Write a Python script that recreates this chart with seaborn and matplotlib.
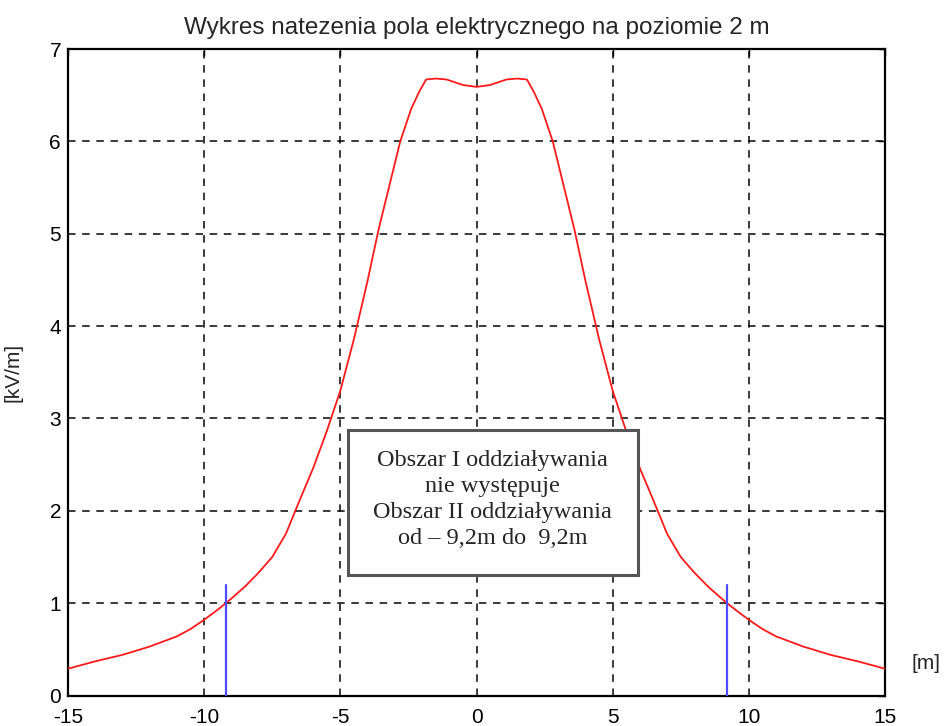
import numpy as np
import pandas as pd
import matplotlib
matplotlib.use("Agg")
import matplotlib.pyplot as plt
import seaborn as sns

# ── Data ──────────────────────────────────────────────────────────────────────
x_m = [-15, -14, -13, -12, -11, -10.5, -10, -9.5, -9.2, -9, -8.5, -8, -7.5,
       -7, -6.5, -6, -5.5, -5, -4.5, -4, -3.6, -3.2, -2.8, -2.4, -2.1, -1.85,
       -1.5, -1.1, -0.5, 0,
       0.5, 1.1, 1.5, 1.85, 2.1, 2.4, 2.8, 3.2, 3.6, 4, 4.5, 5, 5.5, 6, 6.5,
       7, 7.5, 8, 8.5, 9, 9.2, 9.5, 10, 10.5, 11, 12, 13, 14, 15]
e_kv = [0.29, 0.37, 0.44, 0.53, 0.64, 0.72, 0.82, 0.93, 1.00, 1.05, 1.18, 1.33,
        1.50, 1.75, 2.11, 2.46, 2.86, 3.30, 3.86, 4.49, 5.04, 5.52, 6.00, 6.35,
        6.54, 6.67, 6.68, 6.67, 6.61, 6.59,
        6.61, 6.67, 6.68, 6.67, 6.54, 6.35, 6.00, 5.52, 5.04, 4.49, 3.86, 3.30,
        2.86, 2.46, 2.11, 1.75, 1.50, 1.33, 1.18, 1.05, 1.00, 0.93, 0.82, 0.72,
        0.64, 0.53, 0.44, 0.37, 0.29]

zone_edges = [-9.2, 9.2]
zone_height = 1.2

title = "Wykres natezenia pola elektrycznego na poziomie 2 m"
box_lines = ["Obszar I oddziaływania", "nie występuje",
             "Obszar II oddziaływania", "od – 9,2m do  9,2m"]

df = pd.DataFrame({"x": x_m, "E": e_kv})

# ── Style ─────────────────────────────────────────────────────────────────────
sns.set_style("white")
plt.rcParams["font.family"] = ["Liberation Sans", "DejaVu Sans"]
plt.rcParams["axes.unicode_minus"] = False

fig = plt.figure(figsize=(9.49, 7.26), dpi=100)
ax = fig.add_axes([68 / 949, (726 - 695.5) / 726, 817 / 949, 646.5 / 726])

sns.lineplot(data=df, x="x", y="E", ax=ax, color="#ff1a1a", lw=1.3,
             sort=False, zorder=3)
for xe in zone_edges:
    ax.plot([xe, xe], [0, zone_height], color="#4d4dff", lw=1.6, zorder=3)

ax.set_xlim(-15, 15)
ax.set_ylim(0, 7)
ax.set_xticks(range(-15, 16, 5))
ax.set_yticks(range(0, 8))
ax.grid(True, color="black", ls=(0, (4.5, 4)), lw=1.2, alpha=0.9)
ax.set_axisbelow(True)
for s in ax.spines.values():
    s.set_color("black")
    s.set_linewidth(1.6)
ax.tick_params(direction="in", length=5, width=1, top=True, right=True,
               labelsize=15, colors="black")
ax.tick_params(axis="x", pad=9)
ax.tick_params(axis="y", pad=5)

ax.set_title(title, fontsize=17.5, pad=11)
ax.set_xlabel("[m]", fontsize=15)
ax.xaxis.set_label_coords(1.05, 0.064)
ax.set_ylabel("[kV/m]", fontsize=15)
ax.yaxis.set_label_coords(-0.056, 0.5)

# annotation box
bx = fig.add_axes([348 / 949, (726 - 575) / 726, 289.5 / 949, 145 / 726])
bx.set_xticks([]); bx.set_yticks([])
bx.set_facecolor("white")
for s in bx.spines.values():
    s.set_color("#555555")
    s.set_linewidth(2.2)
bx.text(0.5, 0.52, "\n".join(box_lines), ha="center", va="center",
        fontsize=17.5, family="Liberation Serif", linespacing=1.3,
        transform=bx.transAxes)

fig.savefig("out.png", dpi=100)
